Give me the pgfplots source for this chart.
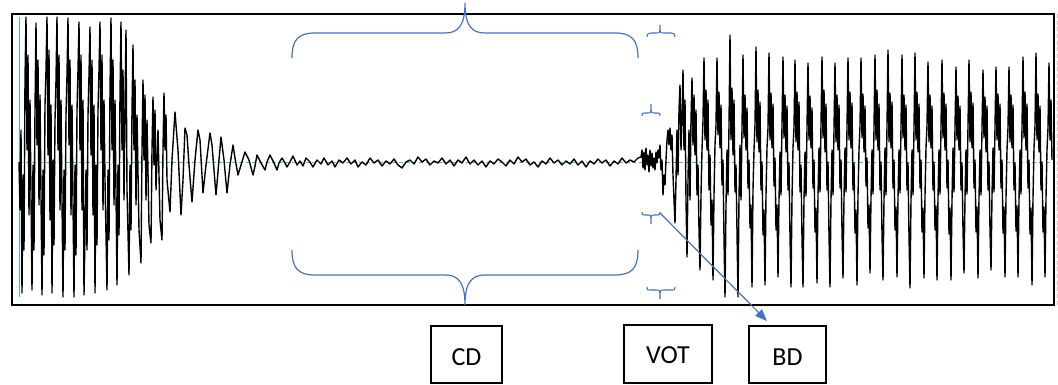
\documentclass[border=0pt]{standalone}
\usepackage{pgfplots}
\pgfplotsset{compat=1.18}
\usepackage{fontspec}
\setmainfont{Carlito}
\usetikzlibrary{arrows.meta}
\definecolor{brace}{RGB}{68,114,196}
\definecolor{cyanline}{RGB}{80,175,215}
\begin{document}
\begin{tikzpicture}
\begin{axis}[
  width=793.5pt, height=288.75pt, scale only axis,
  xmin=0, xmax=1058, ymin=0, ymax=385, y dir=reverse,
  hide axis, clip=false,
]
% baseline references
\addplot[cyanline, line width=0.5pt] coordinates {(19,17) (19,297)};
\addplot[cyanline, line width=0.6pt, densely dashed] coordinates {(19,162) (1052,162)};
\addplot[red!30, line width=0.4pt, densely dashed] coordinates {(1057,14) (1057,305)};
% waveform
\addplot[black, line width=1.05pt, line join=round] coordinates {
(19,162) (20,210) (21,130) (22,293) (23,175) (24,250) (25,80)
(26,17) (27,150) (28,55) (29,215) (30,100) (32,290) (33,165) (34,250) (35,110)
(36,23) (37,145) (38,60) (39,205) (40,95) (42,295) (43,170) (44,255) (45,105) (46,70)
(47,17) (48,155) (49,50) (50,220) (51,105) (52,293) (53,160) (54,245) (55,120) (56,80)
(57,17) (58,150) (59,55) (60,210) (61,100) (63,297) (64,170) (65,250) (66,115) (67,75)
(68,18) (69,145) (70,60) (71,215) (72,105) (74,297) (75,165) (76,255) (77,110) (78,70)
(79,22) (80,150) (81,55) (82,210) (83,100) (84,295) (86,170) (87,250) (88,115) (89,75)
(90,27) (91,155) (92,60) (93,215) (94,105) (95,293) (96,165) (97,245) (98,110) (99,70)
(100,22) (101,150) (102,55) (103,210) (104,100) (105,180) (107,290) (108,170) (109,240) (110,90)
(111,18) (112,150) (113,60) (114,205) (115,100) (117,285) (118,165) (119,235) (120,95)
(121,22) (122,150) (123,70) (124,200) (125,105) (126,30) (127,190) (129,275) (130,165) (131,230) (132,110)
(133,45) (134,150) (135,80) (136,205) (137,115) (139,230) (141,263) (142,150)
(143,80) (144,160) (145,95) (146,200) (147,120) (149,225) (151,243) (152,150)
(153,97) (154,165) (155,110) (156,190) (158,130) (160,220) (162,240) (163,150)
(164,93) (165,150) (166,115) (167,180) (170,212) (172,160)
(175,112) (176,125) (178,150) (181,215) (183,180)
(185,128) (187,135) (189,165) (192,202) (195,160)
(198,130) (200,140) (203,193) (206,165)
(210,133) (212,145) (216,195) (219,160)
(221,137) (224,160) (227,193) (230,165)
(233,145) (235,158) (238,175) (241,165)
(245,152) (249,160) (253,175) (255,166)
(257,155) (261,163) (265,170) (267,162)
(270,155) (274,163) (277,170) (279,163)
(282,158) (285,163) (287,167) (290,162)
(293,156) (297,165) (300,161) (303,166) (306,158) (310,162) (313,167) (317,160) (321,164) (324,158)
(328,165) (332,161) (335,167) (339,160) (343,163) (347,158) (351,164) (355,160) (358,167) (362,162)
(366,165) (370,158) (374,163) (378,160) (382,166) (386,161) (390,164) (394,159) (398,165) (402,168)
(406,162) (410,160) (414,164) (418,157) (422,162) (426,159) (430,165) (434,161) (438,163) (442,158)
(446,164) (450,160) (454,166) (458,160) (462,163) (466,157) (470,164) (474,160) (478,165) (482,161)
(486,167) (490,161) (494,164) (498,159) (502,162) (506,166) (510,160) (514,164) (518,157) (522,162)
(526,159) (530,165) (534,162) (538,167) (542,161) (546,164) (550,158) (554,163) (558,160) (562,165)
(566,161) (570,164) (574,159) (578,165) (582,161) (586,167) (590,161) (594,164) (598,159) (602,163)
(606,160) (610,166) (614,161) (618,164) (622,158) (626,163) (630,160) (634,162) (638,158) (641,157)
(642,150) (643,168) (644,152) (645,170) (646,148) (647,165) (648,155) (649,172) (650,150) (651,166)
(652,153) (653,168) (654,158) (655,170) (656,152) (657,163) (658,150) (659,158) (660,145) (661,170)
(662,160) (663,195) (664,175) (665,185) (666,160) (667,140) (668,130) (669,145) (670,128) (671,150)
(672,135) (673,175) (674,200) (675,223) (676,180) (677,130) (678,175) (679,110) (680,85) (681,150) (682,120)
(683,70) (684,150) (685,100) (686,200) (687,257) (688,180) (689,130) (690,200) (691,120)
(692,78) (693,145) (694,95) (695,155) (696,110) (697,195) (698,165) (699,230) (700,270) (701,195) (702,150) (703,120)
(704,58) (705,140) (706,90) (707,150) (708,100) (709,190) (710,155) (711,225) (712,200) (713,280) (714,195) (715,145) (716,125)
(717,58) (718,135) (719,92) (720,148) (721,105) (722,185) (723,160) (724,238) (725,297) (726,205) (727,150) (728,195) (729,125)
(730,35) (731,140) (732,88) (733,155) (734,100) (735,192) (736,165) (737,232) (738,297) (739,198) (740,145) (741,200) (742,128)
(743,55) (744,138) (745,95) (746,150) (747,108) (748,188) (749,160) (750,228) (751,205) (752,287) (753,190) (754,150) (755,125)
(756,47) (757,142) (758,90) (759,152) (760,102) (761,190) (762,162) (763,235) (764,210) (765,285) (766,195) (767,148) (768,128)
(769,53) (770,140) (771,93) (772,148) (773,104) (774,186) (775,158) (776,230) (777,205) (778,277) (779,200) (780,152) (781,195) (782,125)
(783,57) (784,138) (785,95) (786,152) (787,106) (788,190) (789,163) (790,236) (791,287) (792,198) (793,148) (794,128)
(795,60) (796,142) (797,92) (798,150) (799,102) (800,192) (801,165) (802,238) (803,287) (804,200) (805,152) (806,196) (807,128)
(808,63) (809,140) (810,96) (811,148) (812,108) (813,188) (814,160) (815,232) (816,208) (817,283) (818,195) (819,148) (820,192) (821,125)
(822,57) (823,138) (824,90) (825,152) (826,104) (827,190) (828,162) (829,235) (830,287) (831,200) (832,150) (833,195) (834,130)
(835,63) (836,142) (837,95) (838,150) (839,105) (840,188) (841,160) (842,230) (843,278) (844,198) (845,148) (846,192) (847,127)
(848,58) (849,140) (850,92) (851,148) (852,103) (853,190) (854,163) (855,233) (856,210) (857,285) (858,196) (859,150) (860,126)
(861,58) (862,138) (863,94) (864,152) (865,106) (866,186) (867,158) (868,228) (869,205) (870,273) (871,198) (872,150) (873,194) (874,128)
(875,55) (876,140) (877,90) (878,150) (879,104) (880,190) (881,162) (882,234) (883,280) (884,200) (885,148) (886,195) (887,126)
(888,50) (889,142) (890,93) (891,148) (892,102) (893,188) (894,160) (895,230) (896,207) (897,277) (898,198) (899,150) (900,193) (901,127)
(902,55) (903,138) (904,95) (905,150) (906,105) (907,190) (908,163) (909,236) (910,288) (911,200) (912,150) (913,195) (914,128)
(915,53) (916,140) (917,92) (918,152) (919,104) (920,188) (921,160) (922,232) (923,208) (924,278) (925,196) (926,148) (927,126)
(928,62) (929,142) (930,95) (931,148) (932,106) (933,190) (934,162) (935,230) (936,206) (937,280) (938,198) (939,150) (940,194) (941,127)
(942,60) (943,138) (944,93) (945,150) (946,104) (947,188) (948,160) (949,234) (950,208) (951,280) (952,200) (953,148) (954,192) (955,128)
(956,67) (957,140) (958,96) (959,150) (960,106) (961,190) (962,163) (963,230) (964,273) (965,198) (966,150) (967,194) (968,126)
(969,60) (970,142) (971,92) (972,148) (973,103) (974,188) (975,160) (976,232) (977,207) (978,278) (979,198) (980,150) (981,195) (982,128)
(983,70) (984,138) (985,97) (986,152) (987,106) (988,190) (989,162) (990,230) (991,270) (992,196) (993,148) (994,192) (995,127)
(996,67) (997,140) (998,94) (999,150) (1000,104) (1001,188) (1002,160) (1003,233) (1004,207) (1005,277) (1006,198) (1007,150) (1008,128)
(1009,67) (1010,142) (1011,95) (1012,148) (1013,105) (1014,190) (1015,163) (1016,231) (1017,206) (1018,277) (1019,200) (1020,150) (1021,194) (1022,127)
(1023,57) (1024,138) (1025,92) (1026,150) (1027,104) (1028,188) (1029,160) (1030,234) (1031,208) (1032,285) (1033,198) (1034,148) (1035,126)
(1036,53) (1037,140) (1038,94) (1039,152) (1040,106) (1041,190) (1042,162) (1043,232) (1044,207) (1045,277) (1046,198) (1047,150) (1048,128)
(1049,63) (1050,140) (1051,100) (1052,160)
};
% frame
\draw[black, line width=2.2pt] (axis cs:12,14) rectangle (axis cs:1054,305);
% big braces
\draw[brace, line width=0.9pt] (axis cs:292,58) .. controls (axis cs:292,40) and (axis cs:298,33) .. (axis cs:315,33)
  -- (axis cs:445,33) .. controls (axis cs:458,33) and (axis cs:465,26) .. (axis cs:465,3)
  .. controls (axis cs:465,26) and (axis cs:472,33) .. (axis cs:485,33)
  -- (axis cs:615,33) .. controls (axis cs:632,33) and (axis cs:638,40) .. (axis cs:638,58);
\draw[brace, line width=0.9pt] (axis cs:292,250) .. controls (axis cs:292,268) and (axis cs:298,275) .. (axis cs:315,275)
  -- (axis cs:445,275) .. controls (axis cs:458,275) and (axis cs:465,282) .. (axis cs:465,305)
  .. controls (axis cs:465,282) and (axis cs:472,275) .. (axis cs:485,275)
  -- (axis cs:615,275) .. controls (axis cs:632,275) and (axis cs:638,268) .. (axis cs:638,250);
% small brackets
\draw[brace, line width=0.8pt] (axis cs:647,37) .. controls (axis cs:647,34) .. (axis cs:651,33) -- (axis cs:656,33)
  .. controls (axis cs:660,33) .. (axis cs:660,25) .. controls (axis cs:660,33) .. (axis cs:664,33) -- (axis cs:671,33)
  .. controls (axis cs:675,34) .. (axis cs:675,37);
\draw[brace, line width=0.8pt] (axis cs:642,116) .. controls (axis cs:642,113) .. (axis cs:645,113) -- (axis cs:648,113)
  .. controls (axis cs:651,113) .. (axis cs:651,104) .. controls (axis cs:651,113) .. (axis cs:654,113) -- (axis cs:657,113)
  .. controls (axis cs:660,113) .. (axis cs:660,116);
\draw[brace, line width=0.8pt] (axis cs:642,212) .. controls (axis cs:642,215) .. (axis cs:645,215) -- (axis cs:648,215)
  .. controls (axis cs:651,215) .. (axis cs:651,224) .. controls (axis cs:651,215) .. (axis cs:654,215) -- (axis cs:657,215)
  .. controls (axis cs:660,215) .. (axis cs:660,212);
\draw[brace, line width=0.8pt] (axis cs:647,287) .. controls (axis cs:647,290) .. (axis cs:651,290) -- (axis cs:656,290)
  .. controls (axis cs:660,290) .. (axis cs:660,299) .. controls (axis cs:660,290) .. (axis cs:664,290) -- (axis cs:671,290)
  .. controls (axis cs:675,290) .. (axis cs:675,287);
% arrow
\draw[brace, line width=0.9pt, -{Triangle[length=9pt, width=7pt]}] (axis cs:660,213) -- (axis cs:767,321);
% boxes
\draw[black, line width=1.1pt] (axis cs:431,326) rectangle (axis cs:502,383);
\draw[black, line width=1.1pt] (axis cs:624,325) rectangle (axis cs:712,383);
\draw[black, line width=1.1pt] (axis cs:749,326) rectangle (axis cs:826,383);
\node[font=\fontsize{19.5}{23}\selectfont] at (axis cs:466.5,357) {CD};
\node[font=\fontsize{19.5}{23}\selectfont] at (axis cs:668,355) {VOT};
\node[font=\fontsize{19.5}{23}\selectfont] at (axis cs:787.5,357) {BD};
\path (axis cs:0,0) (axis cs:1058,385);
\end{axis}
\end{tikzpicture}
\end{document}
